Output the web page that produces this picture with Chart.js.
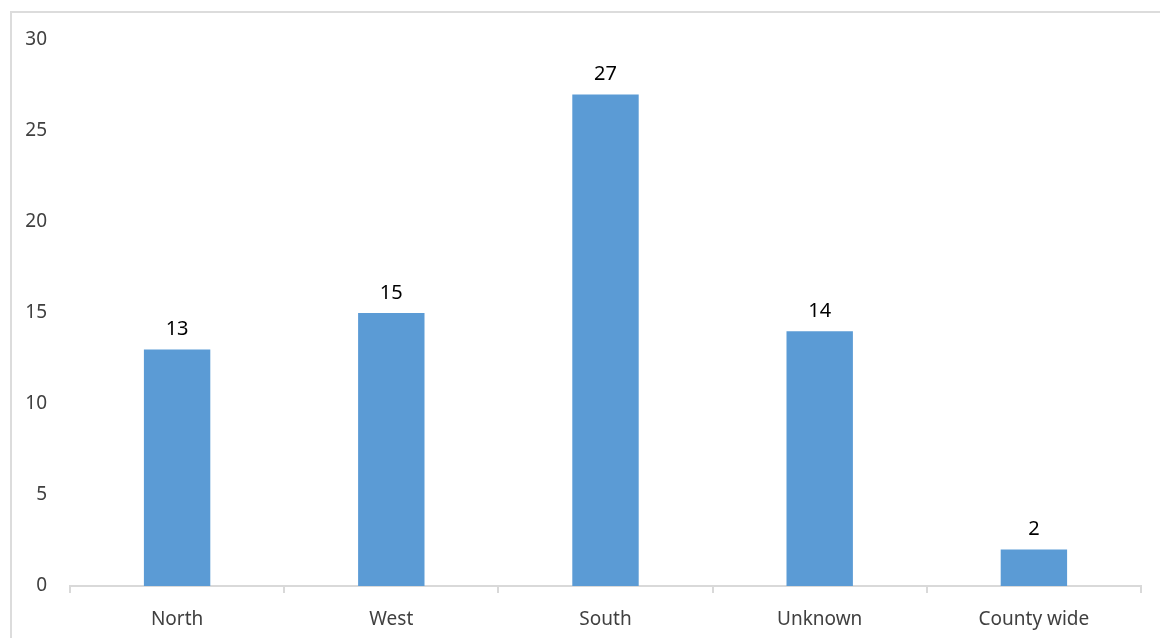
<!DOCTYPE html>
<html>
<head>
<meta charset="utf-8">
<script src="https://cdn.jsdelivr.net/npm/chart.js@4"></script>
<style>
  html, body { margin: 0; padding: 0; background: #fff; overflow: hidden; }
  #wrap { position: relative; width: 1160px; height: 638px; }
  #frame { position: absolute; left: 10px; top: 11px; width: 1200px; height: 700px;
           border-left: 2px solid #dcdcdc; border-top: 2px solid #dcdcdc; }
  canvas { position: absolute; left: 0; top: 0; }
</style>
</head>
<body>
<div id="wrap">
  <div id="frame"></div>
  <canvas id="chart" width="1160" height="638"></canvas>
</div>
<script>
var categories = ['North', 'West', 'South', 'Unknown', 'County wide'];
var counts = [13, 15, 27, 14, 2];
var yTicks = [0, 5, 10, 15, 20, 25, 30];

var barColor = '#5b9bd5';
var fontFamily = '"Noto Sans", "Open Sans", sans-serif';

// simple value labels above each bar
var valueLabels = {
    id: 'valueLabels',
    afterDatasetsDraw: function(chart) {
        var ctx = chart.ctx;
        var meta = chart.getDatasetMeta(0);
        ctx.save();
        ctx.font = '20px ' + fontFamily;
        ctx.fillStyle = '#000';
        ctx.textAlign = 'center';
        ctx.textBaseline = 'bottom';
        meta.data.forEach(function(bar, i) {
            ctx.fillText(chart.data.datasets[0].data[i], bar.x, bar.y - 10);
        });
        ctx.restore();
    }
};

new Chart(document.getElementById('chart'), {
    type: 'bar',
    data: {
        labels: categories,
        datasets: [{
            data: counts,
            backgroundColor: barColor,
            barPercentage: 0.31,
            categoryPercentage: 1.0
        }]
    },
    options: {
        responsive: false,
        animation: false,
        layout: { padding: { top: 40, right: 19, left: 0, bottom: 0 } },
        plugins: { legend: { display: false }, tooltip: { enabled: false } },
        scales: {
            x: {
                offset: true,
                grid: { offset: true, drawOnChartArea: false, drawTicks: true, tickLength: 7, color: '#d9d9d9', lineWidth: 2 },
                border: { color: '#d9d9d9', width: 2 },
                ticks: { color: '#404040', font: { family: fontFamily, size: 19 }, padding: 15 },
                afterFit: function(s) { s.height = 52; }
            },
            y: {
                min: 0,
                max: 30,
                afterBuildTicks: function(s) { s.ticks = yTicks.map(function(v) { return { value: v }; }); },
                grid: { display: false, drawTicks: false },
                border: { display: false },
                ticks: { color: '#404040', font: { family: fontFamily, size: 19 }, padding: 23 },
                afterFit: function(s) { s.width = 70; }
            }
        }
    },
    plugins: [valueLabels]
});
</script>
</body>
</html>
